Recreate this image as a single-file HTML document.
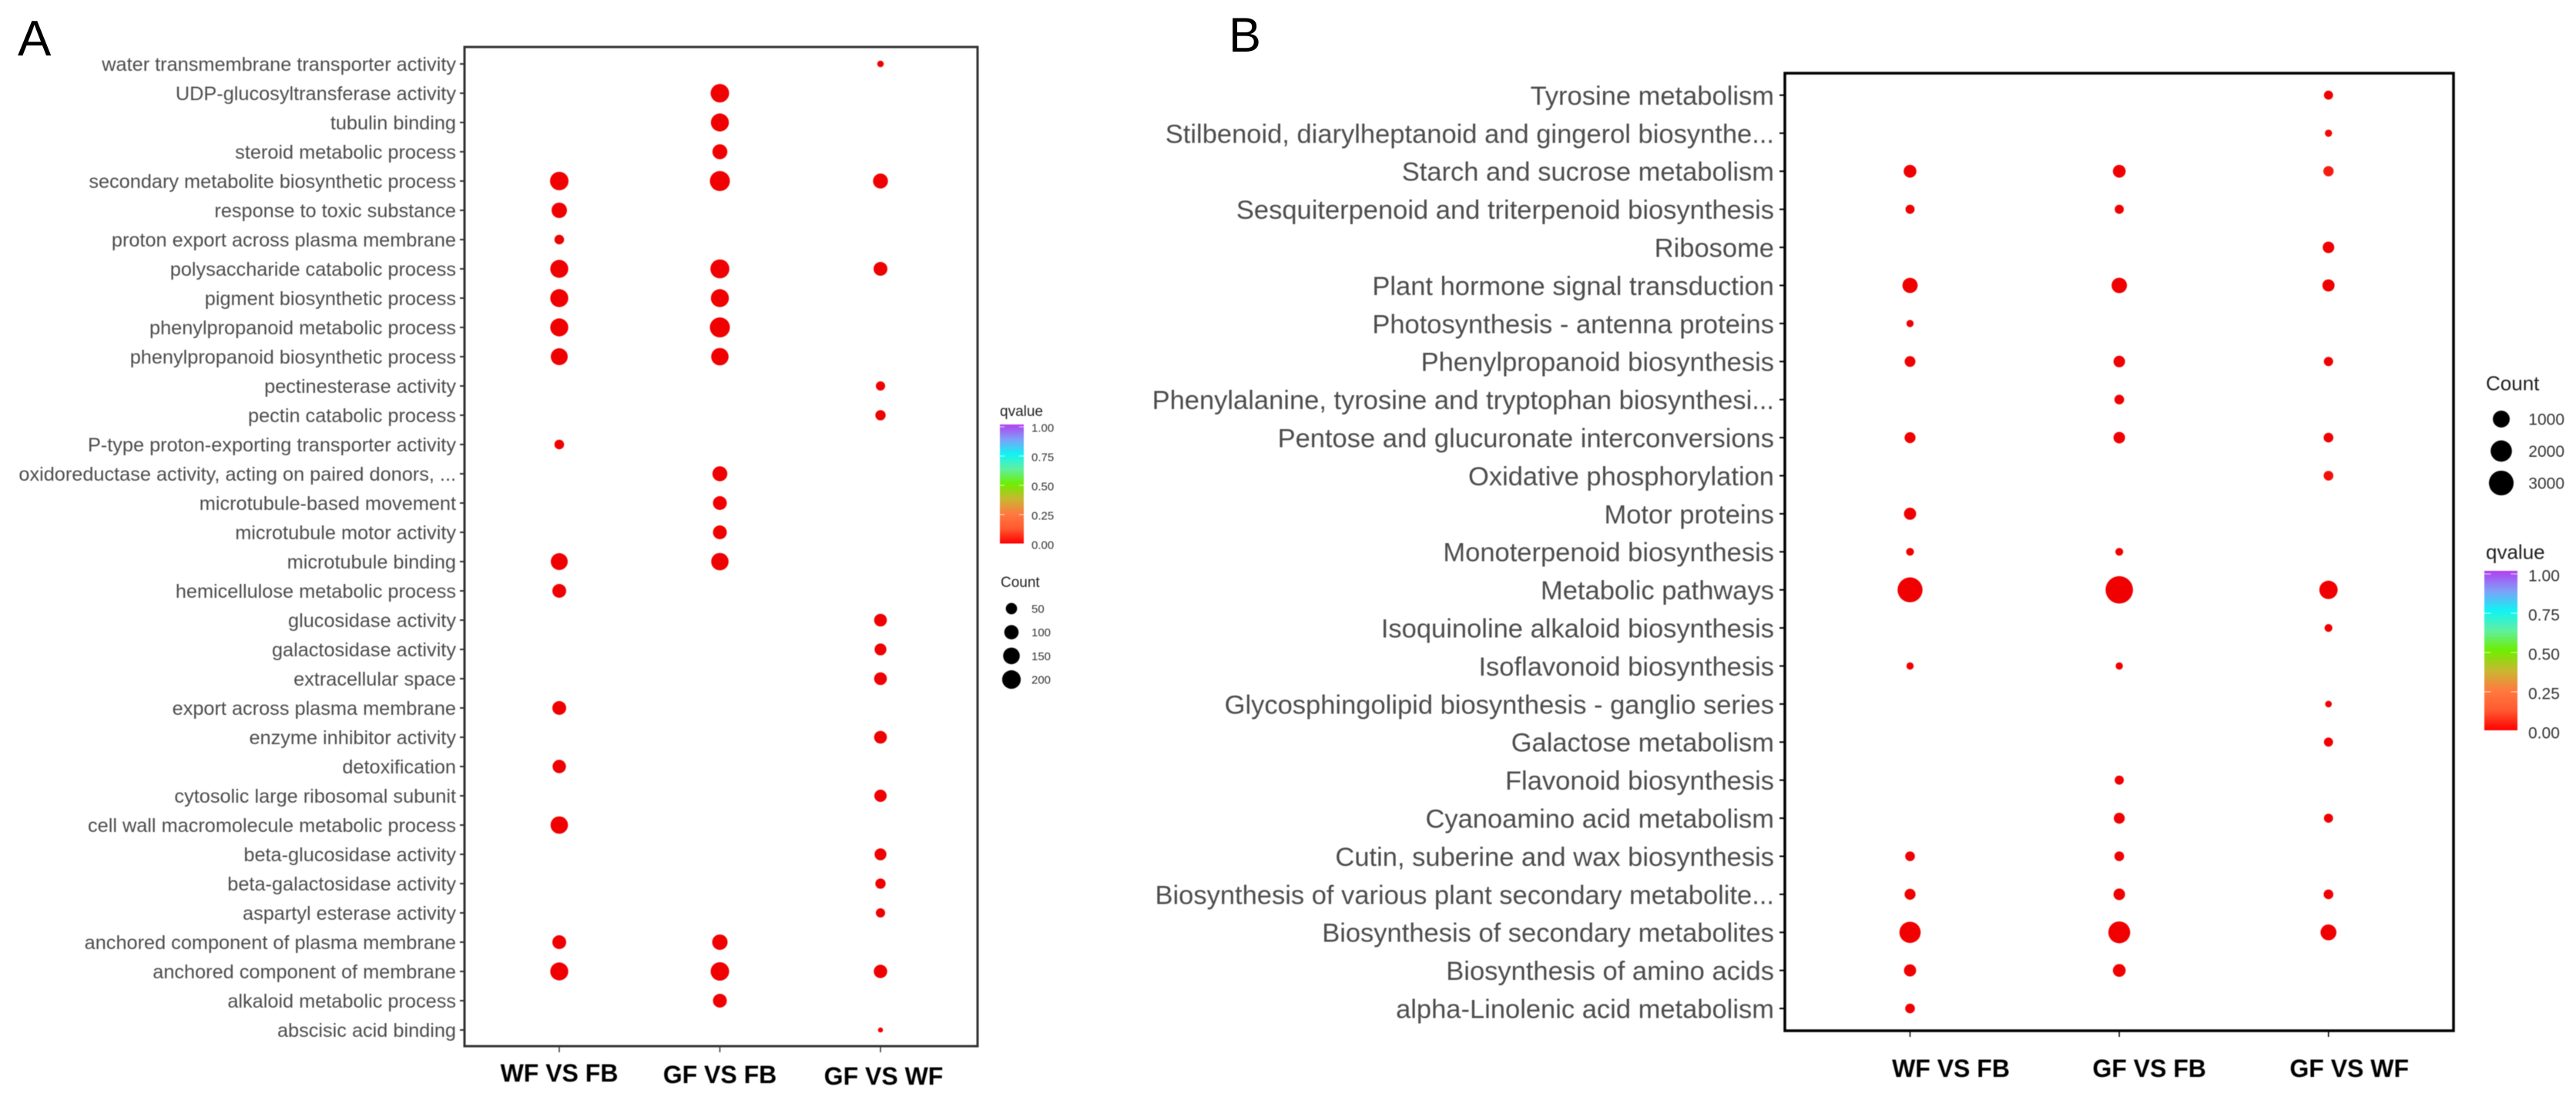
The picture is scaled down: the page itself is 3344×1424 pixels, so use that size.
<!DOCTYPE html>
<html lang="en">
<head>
<meta charset="utf-8">
<title>GO and KEGG enrichment bubble charts</title>
<style>
html,body{margin:0;padding:0;background:#fff;}
svg{display:block;font-family:"Liberation Sans",Arial,sans-serif;}
#layer{filter:blur(0.5px);}
</style>
</head>
<body>
<svg id="figure" xmlns="http://www.w3.org/2000/svg" width="3344" height="1424" viewBox="0 0 3344 1424">
  <defs>
    <linearGradient id="rainbow" x1="0" y1="1" x2="0" y2="0">
      <stop offset="0" stop-color="#ff0000"/>
      <stop offset="0.125" stop-color="#ff5a30"/>
      <stop offset="0.25" stop-color="#ff7a40"/>
      <stop offset="0.375" stop-color="#c8b830"/>
      <stop offset="0.5" stop-color="#6eee00"/>
      <stop offset="0.625" stop-color="#60f0a0"/>
      <stop offset="0.75" stop-color="#10f4f4"/>
      <stop offset="0.875" stop-color="#7f9ff8"/>
      <stop offset="1" stop-color="#b23ff0"/>
    </linearGradient>
  </defs>
  <rect x="0" y="0" width="3344" height="1424" fill="#ffffff"/>
  <text x="23" y="72" font-size="65" fill="#000">A</text>
  <text x="1595" y="67" font-size="63" fill="#000">B</text>
  <g id="layer"></g>
</svg>
<script>
// ---------- Panel A data ----------
const categoriesA = ["water transmembrane transporter activity","UDP-glucosyltransferase activity","tubulin binding","steroid metabolic process","secondary metabolite biosynthetic process","response to toxic substance","proton export across plasma membrane","polysaccharide catabolic process","pigment biosynthetic process","phenylpropanoid metabolic process","phenylpropanoid biosynthetic process","pectinesterase activity","pectin catabolic process","P-type proton-exporting transporter activity","oxidoreductase activity, acting on paired donors, ...","microtubule-based movement","microtubule motor activity","microtubule binding","hemicellulose metabolic process","glucosidase activity","galactosidase activity","extracellular space","export across plasma membrane","enzyme inhibitor activity","detoxification","cytosolic large ribosomal subunit","cell wall macromolecule metabolic process","beta-glucosidase activity","beta-galactosidase activity","aspartyl esterase activity","anchored component of plasma membrane","anchored component of membrane","alkaloid metabolic process","abscisic acid binding"];
const comparisonsA = ["WF VS FB","GF VS FB","GF VS WF"];
const countsA_WFvsFB = [null,null,null,null,197,122,30,184,184,184,157,null,null,30,null,null,null,157,91,null,null,null,91,null,83,null,169,null,null,null,91,184,null,null];
const countsA_GFvsFB = [null,197,184,112,241,null,null,210,184,241,169,null,null,null,112,91,91,169,null,null,null,null,null,null,null,null,null,null,null,null,122,197,91,null];
const countsA_GFvsWF = [6,null,null,null,112,null,null,91,null,null,null,26,37,null,null,null,null,null,null,72,58,72,null,72,null,65,null,58,37,26,null,83,null,1];
const legendCountsA = [50,100,150,200];
const colorTicksA = ["0.00","0.25","0.50","0.75","1.00"];

// ---------- Panel B data ----------
const categoriesB = ["Tyrosine metabolism","Stilbenoid, diarylheptanoid and gingerol biosynthe...","Starch and sucrose metabolism","Sesquiterpenoid and triterpenoid biosynthesis","Ribosome","Plant hormone signal transduction","Photosynthesis - antenna proteins","Phenylpropanoid biosynthesis","Phenylalanine, tyrosine and tryptophan biosynthesi...","Pentose and glucuronate interconversions","Oxidative phosphorylation","Motor proteins","Monoterpenoid biosynthesis","Metabolic pathways","Isoquinoline alkaloid biosynthesis","Isoflavonoid biosynthesis","Glycosphingolipid biosynthesis - ganglio series","Galactose metabolism","Flavonoid biosynthesis","Cyanoamino acid metabolism","Cutin, suberine and wax biosynthesis","Biosynthesis of various plant secondary metabolite...","Biosynthesis of secondary metabolites","Biosynthesis of amino acids","alpha-Linolenic acid metabolism"];
const comparisonsB = ["WF VS FB","GF VS FB","GF VS WF"];
const countsB_WFvsFB = [null,null,382,75,null,719,10,186,null,199,null,314,25,3075,null,10,null,null,null,null,109,199,1984,314,109];
const countsB_GFvsFB = [null,null,382,75,null,744,null,253,109,253,null,null,25,3934,null,10,null,null,75,199,109,253,2150,382,null];
const countsB_GFvsWF = [75,10,151,null,253,314,null,83,null,109,109,null,null,1289,25,null,2,75,null,75,null,109,820,null,null];
const qvalsB_GFvsWF = [0,0.02,0.06,0,0,0,0,0,0,0,0.03,0,0,0,0,0,0,0,0,0,0,0,0,0,0];
const legendCountsB = [1000,2000,3000];
const colorTicksB = ["0.00","0.25","0.50","0.75","1.00"];

const gradientStops = [[0,[240,0,0]],[0.25,[255,122,64]],[0.5,[110,238,0]],[0.75,[16,244,244]],[1,[178,63,240]]];

const NS = 'http://www.w3.org/2000/svg';
const layer = document.getElementById('layer');

function make(tag, props, text) {
  const el = document.createElementNS(NS, tag);
  for (const k in props) el.setAttribute(k, props[k]);
  if (text !== undefined) el.textContent = text;
  layer.appendChild(el);
  return el;
}
function qColor(q) {
  for (let i = 1; i < gradientStops.length; i++) {
    const a = gradientStops[i - 1], b = gradientStops[i];
    if (q <= b[0]) {
      const t = (q - a[0]) / (b[0] - a[0]);
      const c = a[1].map((v, j) => Math.round(v + (b[1][j] - v) * t));
      return 'rgb(' + c.join(',') + ')';
    }
  }
  return '#b23ff0';
}

// ---------- axis functions ----------
const yA = i => 83 + i * 38;
const xA = j => 726 + j * 208.5;
const rA = c => 2.6 + 0.67 * Math.sqrt(c);
const yB = i => 123.5 + i * 49.4;
const xB = j => 2479.5 + j * 271.6;
const rB = c => 4 + 0.22 * Math.sqrt(c);

function drawPanel(p) {
  p.categories.forEach((name, i) => {
    const y = p.y(i);
    const tick = make('line', {x1: p.left - p.tickLen, x2: p.left, y1: y, y2: y, stroke: p.frame, 'stroke-width': 2});
    
    
    const label = make('text', {x: p.labelRight, y: y + p.labelSize * 0.358, 'text-anchor': 'end', 'font-size': p.labelSize, fill: '#4d4d4d'}, name);
    
    
  });
  p.comparisons.forEach((name, j) => {
    const x = p.x(j);
    const tick = make('line', {x1: x, x2: x, y1: p.bottom, y2: p.bottom + 8, stroke: p.frame, 'stroke-width': 1.5});
    
    
    const label = make('text', {x: x + p.xLabelDx[j], y: p.xLabelY[j], 'text-anchor': 'middle', 'font-size': 32, 'font-weight': 'bold', fill: '#000'}, name);
    
    
  });
  p.series.forEach((vals, j) => {
    vals.forEach((c, i) => {
      if (c === null) return;
      const q = p.qvalues[j] ? p.qvalues[j][i] : 0;
      const dot = make('circle', {cx: p.x(j), cy: p.y(i), r: p.r(c), fill: qColor(q)});
      
      
    });
  });
  const frame = make('rect', {x: p.left, y: p.top, width: p.right - p.left, height: p.bottom - p.top, fill: 'none', stroke: p.frame, 'stroke-width': p.frameWidth});
  
  
}

function drawCount(p) {
  const title = make('text', {x: p.titleX, y: p.titleY + p.titleSize * 0.358, 'font-size': p.titleSize, fill: '#222'}, 'Count');
  
  
  p.values.forEach((v, i) => {
    const y = p.ys(i);
    const dot = make('circle', {cx: p.dotX, cy: y, r: p.r(v), fill: '#000'});
    
    
    const label = make('text', {x: p.labelX, y: y + p.labelSize * 0.358, 'font-size': p.labelSize, 'text-anchor': p.labelAnchor, fill: '#333'}, v);
    
    
  });
}

function drawColorbar(p) {
  const title = make('text', {x: p.titleX, y: p.titleY + p.titleSize * 0.358, 'font-size': p.titleSize, fill: '#222'}, 'qvalue');
  
  
  const bar = make('rect', {x: p.x, y: p.top, width: p.w, height: p.bottom - p.top, fill: 'url(#rainbow)'});
  
  
  p.ticks.forEach((t, i) => {
    const y = p.y0 + (p.y1 - p.y0) * (parseFloat(t));
    const l = make('line', {x1: p.x, x2: p.x + p.w / 5, y1: y, y2: y, stroke: '#fff', 'stroke-width': 1, opacity: 0.8});
    
    
    const r = make('line', {x1: p.x + p.w * 0.8, x2: p.x + p.w, y1: y, y2: y, stroke: '#fff', 'stroke-width': 1, opacity: 0.8});
    
    
    const label = make('text', {x: p.labelX, y: y + p.labelDy + p.labelSize * 0.358, 'font-size': p.labelSize, fill: '#333'}, t);
    
    
  });
}

drawPanel({
  categories: categoriesA, comparisons: comparisonsA,
  series: [countsA_WFvsFB, countsA_GFvsFB, countsA_GFvsWF], qvalues: [null, null, null],
  x: xA, y: yA, r: rA,
  left: 603, right: 1269, top: 61, bottom: 1358,
  frame: '#333', frameWidth: 3, tickLen: 6, labelRight: 592, labelSize: 25.3,
  xLabelDx: [0, 0, 4], xLabelY: [1404, 1406, 1408]
});
drawPanel({
  categories: categoriesB, comparisons: comparisonsB,
  series: [countsB_WFvsFB, countsB_GFvsFB, countsB_GFvsWF], qvalues: [null, null, qvalsB_GFvsWF],
  x: xB, y: yB, r: rB,
  left: 2317, right: 3185, top: 95, bottom: 1338,
  frame: '#000', frameWidth: 3.5, tickLen: 7, labelRight: 2303, labelSize: 34.5,
  xLabelDx: [53, 39, 27], xLabelY: [1398, 1398, 1398]
});
drawCount({values: legendCountsA, r: rA, ys: i => 790 + i * 30.7, dotX: 1313, labelX: 1339, labelAnchor: 'start', labelSize: 15, titleX: 1299, titleY: 755, titleSize: 19});
drawCount({values: legendCountsB, r: rB, ys: i => 544 + i * 41.5, dotX: 3247, labelX: 3329, labelAnchor: 'end', labelSize: 21, titleX: 3227, titleY: 497, titleSize: 26});
drawColorbar({ticks: colorTicksA, x: 1298, w: 31, top: 551, bottom: 705.5, y0: 706, y1: 554, labelX: 1339, labelDy: 1, labelSize: 15, titleX: 1298, titleY: 533, titleSize: 19});
drawColorbar({ticks: colorTicksB, x: 3225, w: 43, top: 741, bottom: 948, y0: 949, y1: 745, labelX: 3282, labelDy: 2, labelSize: 21, titleX: 3227, titleY: 716, titleSize: 26});
</script>
</body>
</html>
